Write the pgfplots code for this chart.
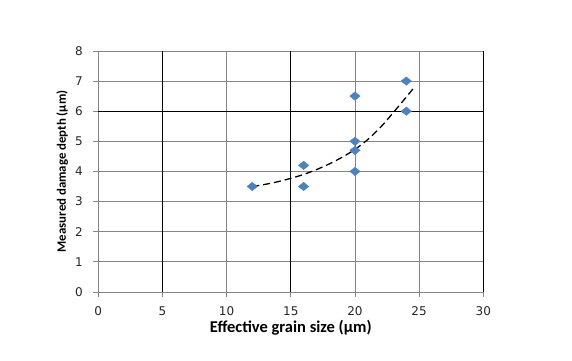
\documentclass[border=0pt]{standalone}
\usepackage{fontspec}
\setmainfont{Carlito}
\newfontfamily\tickfont{DejaVu Sans}
\usepackage{pgfplots}
\pgfplotsset{compat=1.18}
\definecolor{Pt}{HTML}{4F81BD}
\definecolor{Grid}{HTML}{858585}

\begin{document}
\begin{tikzpicture}
\begin{axis}[
  width=385pt,
  height=241pt,
  scale only axis,
  xmin=0, xmax=30,
  ymin=0, ymax=8,
  xtick={0,5,...,30},
  ytick={0,1,...,8},
  grid=major,
  major grid style={Grid, line width=0.8pt},
  axis x line*=bottom,
  axis y line*=left,
  axis line style={Grid, line width=0.8pt, -},
  tick align=outside,
  major tick length=5pt,
  tick style={Grid, line width=0.8pt},
  ticklabel style={font=\tickfont\fontsize{12}{14}\selectfont, text=black!85},
  xticklabel style={yshift=-6pt},
  yticklabel style={xshift=-7pt},
  /pgf/number format/assume math mode=true,
  xlabel={\textbf{Effective grain size (μm)}},
  ylabel={\textbf{Measured damage depth (μm)}},
  xlabel style={font=\fontsize{16.5}{18}\selectfont, at={(axis description cs:0.5,-0.148)}, anchor=center},
  ylabel style={font=\fontsize{12.8}{15}\selectfont, at={(axis description cs:-0.094,0.5)}, anchor=center},
  clip=false,
]
% darker grid lines seen in the reference
\draw[black, line width=0.9pt] (axis cs:5,0) -- (axis cs:5,8);
\draw[black, line width=0.9pt] (axis cs:15,0) -- (axis cs:15,8);
\draw[black, line width=0.9pt] (axis cs:30,0) -- (axis cs:30,8);
\draw[black, line width=0.9pt] (axis cs:0,6) -- (axis cs:30,6);

\addplot[black, line width=1.3pt, dash pattern=on 7pt off 4pt, smooth] coordinates {
  (12,3.50) (13,3.57) (14,3.66) (15,3.77) (16,3.90) (17,4.06) (18,4.25)
  (19,4.47) (20,4.73) (21,5.06) (22,5.47) (23,5.96) (24,6.47) (24.6,6.78)
};

\addplot[only marks, mark=diamond*, mark size=4.2pt, color=Pt,
  mark options={xscale=1.65, fill=Pt, draw=Pt}] coordinates {
  (12,3.5) (16,4.2) (16,3.5) (20,6.5) (20,5.0) (20,4.7) (20,4.0) (24,7.0) (24,6.0)
};

\coordinate (bl) at (rel axis cs:-0.2553,-0.2847);
\coordinate (tr) at (rel axis cs:1.2304,1.2113);
\end{axis}
\path (bl) rectangle (tr);
\end{tikzpicture}
\end{document}
